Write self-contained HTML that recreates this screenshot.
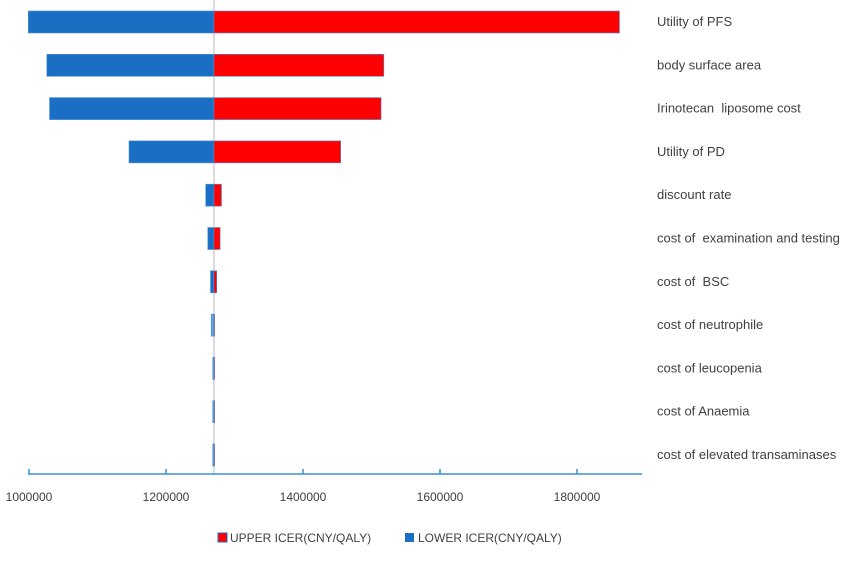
<!DOCTYPE html>
<html><head><meta charset="utf-8"><style>
body{margin:0;background:#fff;font-family:"Liberation Sans",sans-serif;}
svg text{font-family:"Liberation Sans",sans-serif;fill:#404040;white-space:pre;}
</style></head><body>
<svg width="865" height="569">
<g id="bars"></g>
<g id="axis"></g>
<g id="labels"></g>
<g>
<g><rect x="218" y="533" width="9" height="9" fill="#ff0000" stroke="#1a6fc4" stroke-width="1"/><text x="230" y="542" font-size="12">UPPER ICER(CNY/QALY)</text></g>
<g><rect x="405" y="533" width="9" height="9" fill="#1a6fc4"/><text x="418" y="542" font-size="12">LOWER ICER(CNY/QALY)</text></g>
</g>
</svg>
<script>
const categories=["Utility of PFS","body surface area","Irinotecan  liposome cost","Utility of PD","discount rate","cost of  examination and testing","cost of  BSC","cost of neutrophile","cost of leucopenia","cost of Anaemia","cost of elevated transaminases"];
const lowerValues=[999000,1026000,1030000,1146000,1258000,1261000,1265000,1266000,1269000,1269000,1269000];
const upperValues=[1862000,1518000,1514000,1455000,1281000,1279000,1274000,1271000,1271000,1271000,1271000];
const baseValue=1270000;
const tickValues=[1000000,1200000,1400000,1600000,1800000];
const NS="http://www.w3.org/2000/svg";
const x=v=>29+(v-1000000)/200000*137;
const y=i=>22+i*43.3;
function mk(t,a,p){const e=document.createElementNS(NS,t);for(const k in a)e.setAttribute(k,a[k]);p.appendChild(e);return e;}
const bars=document.getElementById('bars'),axis=document.getElementById('axis'),labels=document.getElementById('labels');
const bx=x(baseValue);
const bl=mk('line',{x1:bx,x2:bx,y1:0,y2:474,stroke:'#d0d0d0','stroke-width':1.5},bars);


categories.forEach((c,i)=>{
 const lo=Math.min(lowerValues[i],baseValue),w1=Math.max(x(baseValue)-x(lo),1.2);
 const r1=mk('rect',{x:x(baseValue)-w1,y:y(i)-11,width:w1,height:22,fill:i>=7?'#6a9fd4':'#1a6fc4',stroke:'#4a90d9','stroke-width':0.6},bars);
 
 
 if(upperValues[i]>baseValue){
 const r2=mk('rect',{x:x(baseValue),y:y(i)-11,width:x(upperValues[i])-x(baseValue),height:22,fill:'#ff0000',stroke:'#4a90d9','stroke-width':0.6},bars);
 
 
 }
 const t=mk('text',{x:657,y:y(i)+4,'font-size':13},labels);t.textContent=c;
 
 
});
const al=mk('line',{x1:28,x2:642,y1:474,y2:474,stroke:'#3b8fd6','stroke-width':1.5},axis);


tickValues.forEach(v=>{
 const tk=mk('line',{x1:x(v),x2:x(v),y1:469,y2:474,stroke:'#3b8fd6','stroke-width':1.5},axis);
 
 
 const t=mk('text',{x:x(v),y:501,'font-size':12,'text-anchor':'middle'},axis);t.textContent=v;
 
 
});
</script>
</body></html>
